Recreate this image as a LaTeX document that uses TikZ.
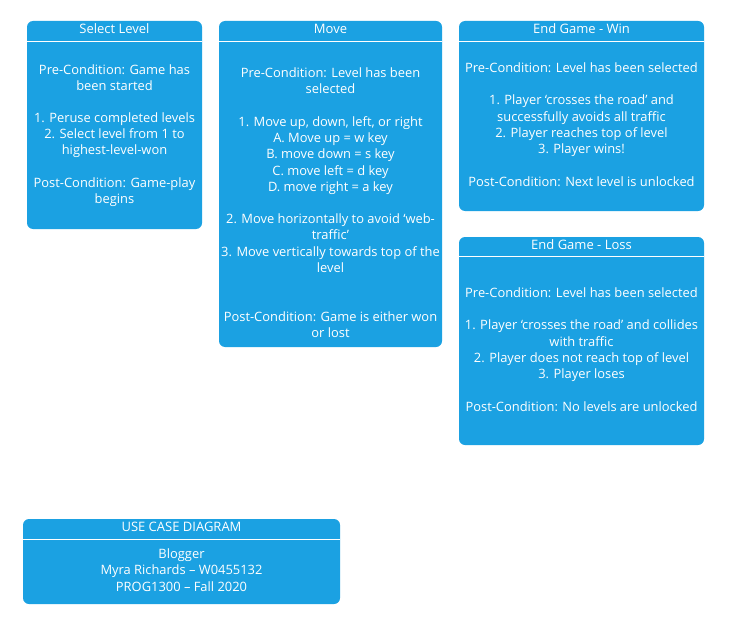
\documentclass[tikz,border=0pt]{standalone}
\usepackage{fontspec}
\setmainfont{Open Sans}
\definecolor{metro}{HTML}{1BA1E2}
\begin{document}
\begin{tikzpicture}[x=1pt,y=-1pt,
  box/.style={fill=metro, draw=none, rounded corners=6pt},
  ttl/.style={text=white, font=\fontsize{13}{15}\selectfont, anchor=base, inner sep=0},
  body/.style={text=white, align=center, font=\fontsize{12.9}{16.3}\selectfont, anchor=north, inner sep=0},
  sep/.style={draw=white, line width=0.9pt}]
\useasboundingbox (0,0) rectangle (736,623);
% Select Level
\path[box] (27,21) rectangle (202,229);
\node[ttl] (selT) at (114.5,33.5) {Select Level};
\coordinate (selL) at (27,41); \coordinate (selR) at (202,41);
\draw[sep] (selL) -- (selR);
\node[body] (selB) at (114.5,64.5) {Pre-Condition: Game has\\been started\\[15pt]1. Peruse completed levels\\2. Select level from 1 to\\highest-level-won\\[16pt]Post-Condition: Game-play\\begins};
% Move
\path[box] (219,21) rectangle (442,347);
\node[ttl] (movT) at (330.5,33.5) {Move};
\coordinate (movL) at (219,41); \coordinate (movR) at (442,41);
\draw[sep] (movL) -- (movR);
\node[body] (movB) at (330.5,67.5) {Pre-Condition: Level has been\\selected\\[16pt]1. Move up, down, left, or right\\A. Move up = w key\\B. move down = s key\\C. move left = d key\\D. move right = a key\\[16pt]2. Move horizontally to avoid ‘web-\\traffic’\\3. Move vertically towards top of the\\level\\[32.7pt]Post-Condition: Game is either won\\or lost};
% Win
\path[box] (459,21) rectangle (704,211);
\node[ttl] (winT) at (581.5,33.5) {End Game - Win};
\coordinate (winL) at (459,41); \coordinate (winR) at (704,41);
\draw[sep] (winL) -- (winR);
\node[body] (winB) at (581.5,62.5) {Pre-Condition: Level has been selected\\[16pt]1. Player ‘crosses the road’ and\\successfully avoids all traffic\\2. Player reaches top of level\\3. Player wins!\\[16pt]Post-Condition: Next level is unlocked};
% Loss
\path[box] (459,237) rectangle (704,445);
\node[ttl] (losT) at (581.5,249.5) {End Game - Loss};
\coordinate (losL) at (459,256.5); \coordinate (losR) at (704,256.5);
\draw[sep] (losL) -- (losR);
\node[body] (losB) at (581.5,287.5) {Pre-Condition: Level has been selected\\[16pt]1. Player ‘crosses the road’ and collides\\with traffic\\2. Player does not reach top of level\\3. Player loses\\[16pt]Post-Condition: No levels are unlocked};
% Use case
\path[box] (23,519) rectangle (340,604);
\node[ttl] (ucT) at (181.5,531.5) {USE CASE DIAGRAM};
\coordinate (ucL) at (23,539); \coordinate (ucR) at (340,539);
\draw[sep] (ucL) -- (ucR);
\node[body] (ucB) at (181.5,548.5) {Blogger\\Myra Richards – W0455132\\PROG1300 – Fall 2020};
\end{tikzpicture}
\end{document}
